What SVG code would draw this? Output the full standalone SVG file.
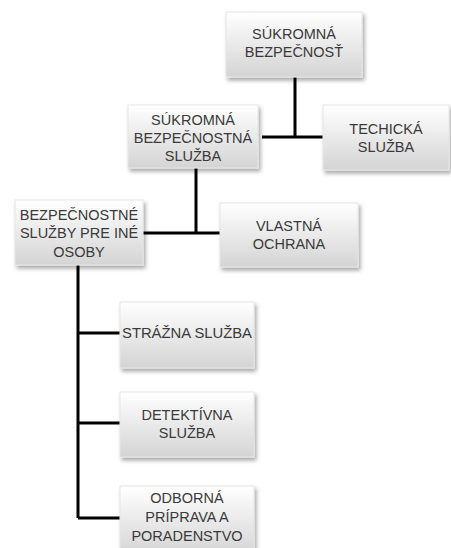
<svg xmlns="http://www.w3.org/2000/svg" width="451" height="548" viewBox="0 0 451 548">
<defs>
<linearGradient id="g" x1="0" y1="0" x2="0" y2="1">
<stop offset="0" stop-color="#ffffff"/>
<stop offset="1" stop-color="#d4d4d4"/>
</linearGradient>
<filter id="sh" x="-10%" y="-10%" width="125%" height="130%">
<feGaussianBlur in="SourceAlpha" stdDeviation="2"/>
<feOffset dx="2" dy="3" result="b"/>
<feComponentTransfer><feFuncA type="linear" slope="0.35"/></feComponentTransfer>
<feMerge><feMergeNode/><feMergeNode in="SourceGraphic"/></feMerge>
</filter>
</defs>
<style>
.box{fill:url(#g);stroke:#e6e6e6;stroke-width:1;filter:url(#sh)}
.t{font-family:"Liberation Sans",Arial,sans-serif;font-size:14.5px;fill:#3a3a3a;text-anchor:middle;text-transform:uppercase;font-variant:normal}
.c{stroke:#000;stroke-width:3;fill:none}
</style>
<rect width="451" height="548" fill="#fff"/>
<g id="connectors">
<path class="c" d="M295 77V137M262 137H323"/>
<path class="c" d="M196 168V233M143 233H220"/>
<path class="c" d="M78 265V518M78 333H120M78 423H120M78 518H120"/>
</g>
<g id="n1"><rect class="box" x="226" y="12" width="136" height="65"/>
<text class="t" x="294" y="39">SÚKROMNÁ</text><text class="t" x="294" y="57">BEZPEČNOSŤ</text></g>
<g id="n2"><rect class="box" x="128" y="105" width="130" height="63"/>
<text class="t" x="193" y="125">SÚKROMNÁ</text><text class="t" x="193" y="143">BEZPEČNOSTNÁ</text><text class="t" x="193" y="161">SLUŽBA</text></g>
<g id="n3"><rect class="box" x="323" y="105" width="126" height="65"/>
<text class="t" x="386" y="134">TECHICKÁ</text><text class="t" x="386" y="152">SLUŽBA</text></g>
<g id="n4"><rect class="box" x="15" y="200" width="128" height="65"/>
<text class="t" x="79" y="220">BEZPEČNOSTNÉ</text><text class="t" x="79" y="238">SLUŽBY PRE INÉ</text><text class="t" x="79" y="257">OSOBY</text></g>
<g id="n5"><rect class="box" x="220" y="203" width="138" height="64"/>
<text class="t" x="289" y="231">VLASTNÁ</text><text class="t" x="289" y="249">OCHRANA</text></g>
<g id="n6"><rect class="box" x="120" y="302" width="134" height="66"/>
<text class="t" x="187" y="338" textLength="130" lengthAdjust="spacingAndGlyphs">STRÁŽNA SLUŽBA</text></g>
<g id="n7"><rect class="box" x="120" y="392" width="134" height="65"/>
<text class="t" x="187" y="420">DETEKTÍVNA</text><text class="t" x="187" y="438">SLUŽBA</text></g>
<g id="n8"><rect class="box" x="120" y="486" width="134" height="70"/>
<text class="t" x="187" y="503">ODBORNÁ</text><text class="t" x="187" y="522">PRÍPRAVA A</text><text class="t" x="187" y="541">PORADENSTVO</text></g>
</svg>
